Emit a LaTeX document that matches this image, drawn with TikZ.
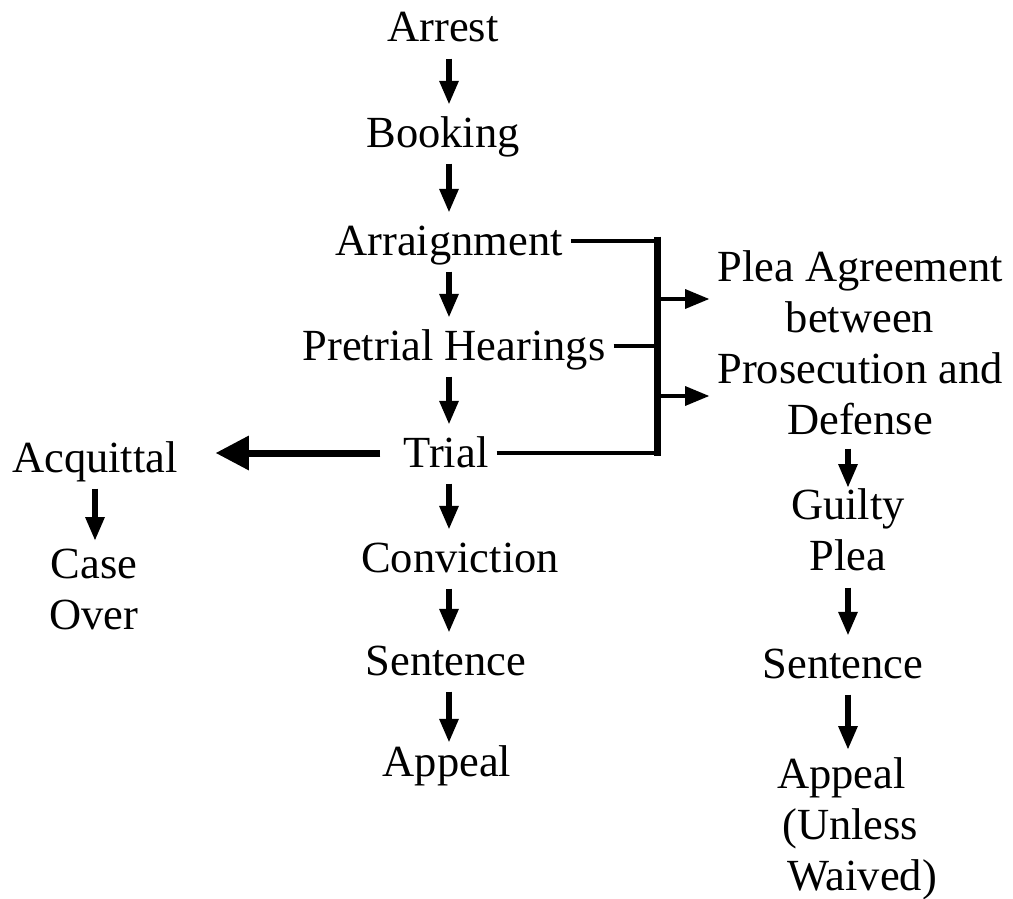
\documentclass[tikz,border=0pt]{standalone}
\usepackage{fontspec}
\setmainfont{Liberation Serif}
\usetikzlibrary{arrows.meta,calc}
\begin{document}
\begin{tikzpicture}[x=1pt, y=-1pt,
    stage/.style={font=\fontsize{44.5}{51}\selectfont, inner xsep=8pt, inner ysep=4pt,
      text height=34pt, text depth=6pt, anchor=base},
    stagelines/.style={font=\fontsize{44.5}{51}\selectfont, inner xsep=8pt, inner ysep=4pt,
      align=center, anchor=north},
    flow/.style={line width=6.5pt, -{Triangle[length=23pt, width=20pt, line width=0pt]},
      shorten <=6.5pt, shorten >=5pt},
    bigflow/.style={line width=7pt, -{Triangle[length=33pt, width=35pt, line width=0pt]}},
    tap/.style={line width=4.5pt, -{Triangle[length=24pt, width=20pt, line width=0pt]}},
    link/.style={line width=4.5pt},
    barline/.style={line width=7pt}]
    \useasboundingbox (0,0) rectangle (1013,899);

    \node[stage] (arrest) at (443,42) {Arrest};
    \node[stage] (booking) at (443,147) {Booking};
    \node[stage] (arraign) at (449,255) {Arraignment};
    \node[stage] (pretrial) at (454,360) {Pretrial Hearings};
    \node[stage] (trial) at (446,467) {Trial};
    \node[stage] (convict) at (460,572) {Conviction};
    \node[stage] (sentA) at (446,675) {Sentence};
    \node[stage] (appealA) at (447,776) {Appeal};

    \node[stage] (acquit) at (95,472) {Acquittal};
    \node[stagelines] (over) at (94,545) {Case\\Over};

    \node[stagelines] (plea) at (860,246) {Plea Agreement\\between\\Prosecution and\\Defense};
    \node[stagelines] (guilty) at (848,484) {Guilty\\Plea};
    \node[stage] (sentB) at (843,678) {Sentence};
    \node[stagelines, align=left, anchor=north west] (appealB) at (769,753)
      {Appeal\\\hspace*{5pt}(Unless\\\hspace*{10pt}Waived)};

    \coordinate (mainaxis) at (449,0);
    \coordinate (pleaaxis) at (848,0);
    \coordinate (bartop) at (657,236.5);
    \coordinate (tapA) at (657,299);
    \coordinate (tapB) at (657,396);

    \foreach \a/\b in {arrest/booking, booking/arraign, arraign/pretrial,
        pretrial/trial, trial/convict, convict/sentA}
      \draw[flow] (\a.south -| mainaxis) -- (\b.north -| mainaxis);
    \draw[flow, shorten >=-4pt] (sentA.south -| mainaxis) -- (appealA.north -| mainaxis);

    \draw[flow] (acquit.south) -- (acquit.south |- over.north);

    \draw[flow, shorten <=10pt, shorten >=-3pt] (plea.south -| pleaaxis) -- (guilty.north -| pleaaxis);
    \draw[flow, shorten <=13pt] (guilty.south -| pleaaxis) -- (sentB.north -| pleaaxis);
    \draw[flow, shorten >=4pt] (sentB.south -| pleaaxis) -- (appealB.north -| pleaaxis);

    \draw[barline] (bartop) -- ($(bartop |- trial.east)+(0,2.5)$);
    \draw[link] (arraign.east) -- (arraign.east -| bartop);
    \draw[link] (pretrial.east) -- (pretrial.east -| bartop);
    \draw[link] (trial.east) -- (trial.east -| bartop);
    \draw[tap] (tapA) -- (tapA -| plea.west);
    \draw[tap] (tapB) -- (tapB -| plea.west);

    \draw[bigflow, shorten <=15pt, shorten >=30pt] (trial.west) -- (trial.west -| acquit.east);
\end{tikzpicture}
\end{document}
